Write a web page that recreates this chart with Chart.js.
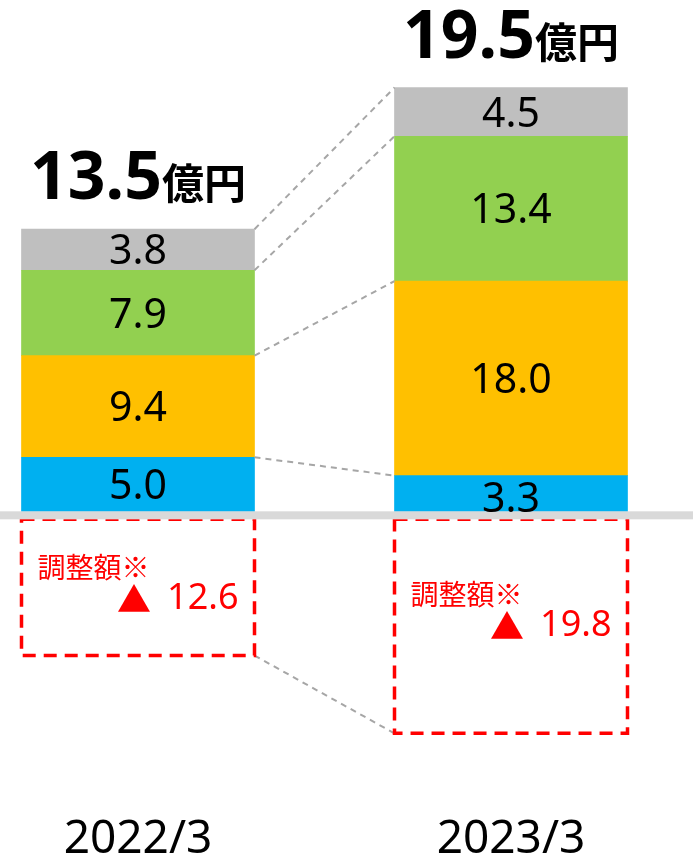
<!DOCTYPE html>
<html>
<head>
<meta charset="utf-8">
<script src="https://cdn.jsdelivr.net/npm/chart.js@4"></script>
<style>
  html, body { margin: 0; padding: 0; background: #fff; }
  #wrap { width: 693px; height: 862px; }
</style>
</head>
<body>
<div id="wrap"><canvas id="chart" width="693" height="862"></canvas></div>
<script>
const categories = ['2022/3', '2023/3'];
const blueValues = [5.0, 3.3];
const yellowValues = [9.4, 18.0];
const greenValues = [7.9, 13.4];
const grayValues = [3.8, 4.5];
const adjustValues = [-12.6, -19.8];
const totalLabels = ['13.5', '19.5'];
const unitLabel = '億円';
const adjustLabel = '調整額※';

const FONT = '"Noto Sans", "Noto Sans CJK JP", sans-serif';
const CJK = '"Noto Sans CJK JP", "Noto Sans", sans-serif';
const BAND = 8;

function line(ctx, x1, y1, x2, y2) {
    ctx.beginPath();
    ctx.moveTo(x1, y1);
    ctx.lineTo(x2, y2);
    ctx.stroke();
}

const overlay = {
    id: 'overlay',
    afterDatasetsDraw(chart) {
        const ctx = chart.ctx;
        const y0 = chart.scales.y.getPixelForValue(0);
        const stacks = [0, 1, 2, 3].map(i => chart.getDatasetMeta(i).data);
        const adj = chart.getDatasetMeta(4).data;
        ctx.save();

        // dashed connectors between the two bars
        ctx.strokeStyle = '#a6a6a6';
        ctx.lineWidth = 2;
        ctx.setLineDash([6, 5]);
        stacks.forEach(bars => {
            let a = bars[0], b = bars[1];
            line(ctx, a.x + a.width / 2, a.y, b.x - b.width / 2, b.y);
        });
        line(ctx, adj[0].x + adj[0].width / 2, adj[0].y + BAND,
             adj[1].x - adj[1].width / 2, adj[1].y + BAND);

        // red dashed adjustment boxes
        ctx.strokeStyle = '#ff0000';
        ctx.lineWidth = 3.5;
        ctx.setLineDash([13, 8]);
        adj.forEach(el => {
            ctx.strokeRect(el.x - el.width / 2, el.base + BAND, el.width, el.y - el.base);
        });
        ctx.setLineDash([]);

        // zero line band
        ctx.fillStyle = '#d9d9d9';
        ctx.fillRect(0, y0, chart.width, BAND);

        // segment values
        ctx.fillStyle = '#000';
        ctx.font = '41px ' + FONT;
        ctx.textAlign = 'center';
        ctx.textBaseline = 'middle';
        const segValues = [blueValues, yellowValues, greenValues, grayValues];
        stacks.forEach((bars, s) => {
            bars.forEach((el, i) => {
                let dy = (el.base - el.y) < 40 ? 7 : 3;
                ctx.fillText(segValues[s][i].toFixed(1), el.x, (el.y + el.base) / 2 + dy);
            });
        });

        // totals above bars
        ctx.textBaseline = 'alphabetic';
        ctx.textAlign = 'left';
        stacks[3].forEach((el, i) => {
            ctx.font = 'bold 66px ' + FONT;
            let w1 = ctx.measureText(totalLabels[i]).width;
            ctx.font = 'bold 42px ' + CJK;
            let w2 = ctx.measureText(unitLabel).width;
            let x = el.x - (w1 + w2) / 2;
            let y = el.y - 30;
            ctx.font = 'bold 66px ' + FONT;
            ctx.fillText(totalLabels[i], x, y);
            ctx.font = 'bold 42px ' + CJK;
            ctx.fillText(unitLabel, x + w1, y);
        });

        // adjustment texts
        ctx.fillStyle = '#ff0000';
        adj.forEach((el, i) => {
            let left = el.x - el.width / 2, right = el.x + el.width / 2;
            let top = el.base + BAND, h = el.y - el.base;
            let y1 = top + h * 0.35;
            ctx.textBaseline = 'middle';
            ctx.textAlign = 'left';
            ctx.font = '28px ' + CJK;
            ctx.fillText(adjustLabel, left + 16, y1);
            ctx.textAlign = 'right';
            ctx.font = '36px ' + FONT;
            let num = Math.abs(adjustValues[i]).toFixed(1);
            ctx.fillText(num, right - 16, y1 + 32);
            let nw = ctx.measureText(num).width;
            ctx.font = '34px ' + CJK;
            ctx.fillText('▲', right - 16 - nw - 16, y1 + 32);
        });

        ctx.restore();
    }
};

const ds = (label, data, color) => ({
    label: label,
    data: data,
    backgroundColor: color,
    borderWidth: 0,
    barThickness: 233,
    clip: false
});

new Chart(document.getElementById('chart'), {
    type: 'bar',
    data: {
        labels: categories,
        datasets: [
            ds('blue', blueValues, '#00b0f0'),
            ds('yellow', yellowValues, '#ffc000'),
            ds('green', greenValues, '#92d050'),
            ds('gray', grayValues, '#bfbfbf'),
            ds('adjust', adjustValues, 'rgba(0,0,0,0)')
        ]
    },
    options: {
        responsive: false,
        animation: false,
        layout: { padding: { left: 138, right: 182, top: 0, bottom: -11 } },
        plugins: { legend: { display: false }, tooltip: { enabled: false } },
        scales: {
            x: {
                stacked: true,
                offset: false,
                grid: { display: false },
                border: { display: false },
                ticks: { color: '#000', font: { family: FONT, size: 46 }, padding: 6, maxRotation: 0 }
            },
            y: {
                stacked: true,
                display: false,
                min: -26.5,
                max: 47.3
            }
        }
    },
    plugins: [overlay]
});
</script>
</body>
</html>
